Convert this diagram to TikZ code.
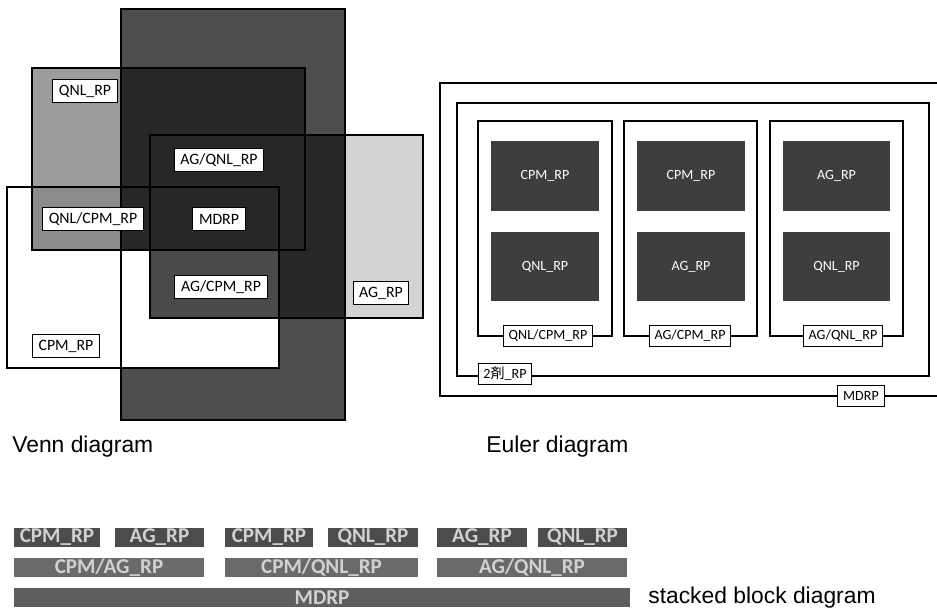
\documentclass[tikz,border=0pt]{standalone}
\usepackage{fontspec}
\setmainfont{Carlito}
\newfontfamily\capfont{Liberation Sans}
\newfontfamily\cjkfont{Noto Sans CJK JP}
\definecolor{mdrpc}{HTML}{4E4E4E}
\definecolor{qnlc}{HTML}{9C9C9C}
\definecolor{agc}{HTML}{D3D3D3}
\definecolor{qnlcpm}{HTML}{8C8C8C}
\definecolor{corec}{HTML}{272727}
\definecolor{agcpmc}{HTML}{4A4A4A}
\definecolor{eboxc}{HTML}{3E3E3E}
\definecolor{stkA}{HTML}{4C4C4C}
\definecolor{stkB}{HTML}{6A6A6A}
\definecolor{stkC}{HTML}{5E5E5E}
\begin{document}
\begin{tikzpicture}[x=0.02cm,y=-0.02cm,
  vline/.style={draw=black,line width=0.9pt},
  eline/.style={draw=black,line width=0.7pt},
  vlab/.style={draw=black,fill=white,line width=0.6pt,font=\fontsize{9}{10}\selectfont,
    inner xsep=3.5pt,inner ysep=0pt,minimum height=13.5pt},
  elab/.style={draw=black,fill=white,line width=0.6pt,font=\fontsize{8}{9}\selectfont,
    inner xsep=3pt,inner ysep=0pt,minimum height=12pt},
  ebox/.style={fill=eboxc,text=white,font=\fontsize{8}{9}\selectfont,inner sep=0pt,
    minimum width=2.16cm,minimum height=1.4cm},
  sblk/.style={fill=stkA,text=white!82!black,font=\bfseries\fontsize{12}{12}\selectfont,
    inner sep=0pt,minimum height=0.38cm},
  capt/.style={font=\capfont\fontsize{13}{15}\selectfont,inner sep=0pt,anchor=base west}]
\useasboundingbox (0,0) rectangle (937,609);
\fill[white] (0,0) rectangle (937,609);
% ---------------- Venn diagram
\fill[mdrpc] (121,9) rectangle (345,420);
\fill[qnlc] (32,68) rectangle (305,250);
\fill[agc] (150,135) rectangle (423,318);
\fill[white] (7,187) rectangle (279,368);
\fill[qnlcpm] (32,187) rectangle (121,250);
\fill[corec] (121,68) rectangle (305,250);
\fill[corec] (150,135) rectangle (345,318);
\fill[agcpmc] (150,250) rectangle (279,318);
\draw[vline] (121,9) rectangle (345,420);
\draw[vline] (32,68) rectangle (305,250);
\draw[vline] (150,135) rectangle (423,318);
\draw[vline] (7,187) rectangle (279,368);
\node[vlab] (vqnl) at (85,91) {QNL\_RP};
\node[vlab] (vagqnl) at (219,160) {AG/QNL\_RP};
\node[vlab] (vqnlcpm) at (93,219) {QNL/CPM\_RP};
\node[vlab] (vmdrp) at (219,219) {MDRP};
\node[vlab] (vagcpm) at (221,287) {AG/CPM\_RP};
\node[vlab] (vag) at (381,293) {AG\_RP};
\node[vlab] (vcpm) at (66,346) {CPM\_RP};
\node[capt] (vcap) at (12,452) {Venn diagram};
% ---------------- Euler diagram
\draw[eline] (937,83) -- (440,83) -- (440,396) -- (937,396);
\draw[eline] (457,103) rectangle (929,376);
\draw[eline] (478,121) rectangle (612,336);
\draw[eline] (624,121) rectangle (757,336);
\draw[eline] (770,121) rectangle (903,336);
\node[ebox] (e1a) at (545,176) {CPM\_RP};
\node[ebox] (e1b) at (545,266.5) {QNL\_RP};
\node[ebox] (e2a) at (691,176) {CPM\_RP};
\node[ebox] (e2b) at (691,266.5) {AG\_RP};
\node[ebox] (e3a) at (836.5,176) {AG\_RP};
\node[ebox] (e3b) at (836.5,266.5) {QNL\_RP};
\node[elab] (eqnlcpm) at (548,336) {QNL/CPM\_RP};
\node[elab] (eagcpm) at (690,336) {AG/CPM\_RP};
\node[elab] (eagqnl) at (843,336) {AG/QNL\_RP};
\node[elab] (etwo) at (505,374) {2{\cjkfont 剤}\_RP};
\node[elab] (emdrp) at (861,396) {MDRP};
\node[capt] (ecap) at (486,452) {Euler diagram};
% ---------------- stacked block diagram
\node[sblk,minimum width=1.72cm] (s11) at (57,537.5) {CPM\_RP};
\node[sblk,minimum width=1.78cm] (s12) at (159.5,537.5) {AG\_RP};
\node[sblk,minimum width=1.76cm] (s13) at (269,537.5) {CPM\_RP};
\node[sblk,minimum width=1.80cm] (s14) at (373,537.5) {QNL\_RP};
\node[sblk,minimum width=1.80cm] (s15) at (482,537.5) {AG\_RP};
\node[sblk,minimum width=1.78cm] (s16) at (582.5,537.5) {QNL\_RP};
\node[sblk,fill=stkB,minimum width=3.80cm] (s21) at (109,567.5) {CPM/AG\_RP};
\node[sblk,fill=stkB,minimum width=3.86cm] (s22) at (321.5,567.5) {CPM/QNL\_RP};
\node[sblk,fill=stkB,minimum width=3.80cm] (s23) at (532,567.5) {AG/QNL\_RP};
\node[sblk,fill=stkC,minimum width=12.32cm] (s31) at (322,597.5) {MDRP};
\node[capt] (scap) at (648,603) {stacked block diagram};
\end{tikzpicture}
\end{document}
